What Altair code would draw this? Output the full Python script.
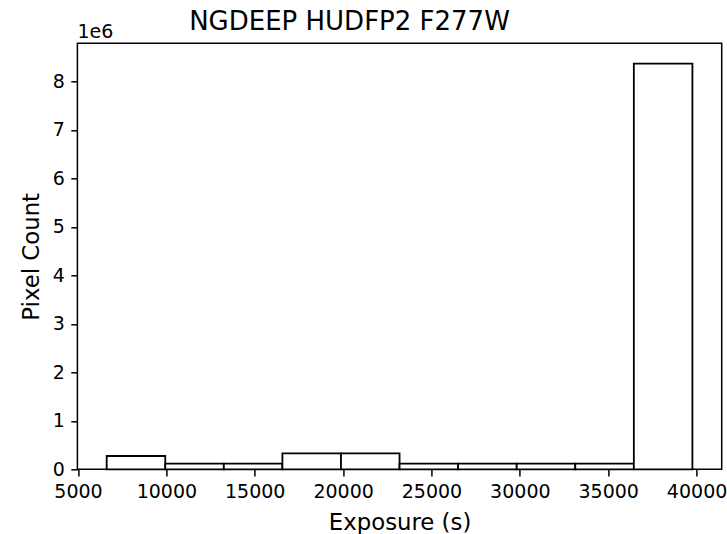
import altair as alt
import pandas as pd

# Histogram of per-pixel exposure time (10 bins)
bin_edges = [6624, 9938, 13252, 16566, 19880, 23194, 26508, 29822, 33136, 36450, 39764]
pixel_counts = [274000, 117000, 117000, 330000, 330000, 117000, 117000, 117000, 117000, 8366000]

x_ticks = [5000, 10000, 15000, 20000, 25000, 30000, 35000, 40000]
y_ticks = [0, 1000000, 2000000, 3000000, 4000000, 5000000, 6000000, 7000000, 8000000]

x_domain = [4967, 41421]
y_domain = [0, 8784000]

FONT = "DejaVu Sans"

df = pd.DataFrame({
    "lo": bin_edges[:-1],
    "hi": bin_edges[1:],
    "count": pixel_counts,
})

bars = alt.Chart(df).mark_rect(fill="white", stroke="black", strokeWidth=1.8).encode(
    x=alt.X(
        "lo:Q",
        scale=alt.Scale(domain=x_domain, nice=False, zero=False),
        axis=alt.Axis(
            values=x_ticks,
            format="d",
            title="Exposure (s)",
            labelFlush=False,
            labelOverlap=False,
            labelPadding=6.6,
            titleBaseline="alphabetic",
            titleY=60.3,
        ),
    ),
    x2="hi:Q",
    y=alt.Y(
        "count:Q",
        scale=alt.Scale(domain=y_domain, nice=False),
        axis=alt.Axis(
            values=y_ticks,
            labelExpr="format(datum.value / 1000000, 'd')",
            title="Pixel Count",
            labelFlush=False,
            labelOverlap=False,
            labelPadding=6.5,
            titleAngle=270,
            titleAlign="center",
            titleBaseline="alphabetic",
            titleX=-39.1,
            titleY=213,
        ),
    ),
    y2=alt.datum(0),
)

# Scale multiplier shown above the y axis
multiplier = alt.Chart(pd.DataFrame({"t": ["1e6"]})).mark_text(
    align="left", baseline="alphabetic", font=FONT, fontSize=19, color="black"
).encode(x=alt.value(0), y=alt.value(-5.3), text="t:N")

# Figure title
title = alt.Chart(pd.DataFrame({"t": ["NGDEEP HUDFP2 F277W"]})).mark_text(
    align="center", baseline="alphabetic", font=FONT, fontSize=26, color="black"
).encode(x=alt.value(272.1), y=alt.value(-13.3), text="t:N")

chart = (
    alt.layer(bars, multiplier, title)
    .properties(
        width=644.3,
        height=426,
        autosize=alt.AutoSizeParams(type="none"),
        padding={"left": 77.4, "top": 43.3, "right": 5.3, "bottom": 64.7},
        background="white",
    )
    .configure_view(stroke="black", strokeWidth=1.5)
    .configure_axis(
        domain=False,
        grid=False,
        tickSize=6.6,
        tickWidth=1.5,
        tickColor="black",
        labelFont=FONT,
        labelFontSize=19,
        labelColor="black",
        titleFont=FONT,
        titleFontSize=22.8,
        titleFontWeight="normal",
        titleColor="black",
    )
)

chart.save("out.html", embed_options={"renderer": "svg", "actions": False})
